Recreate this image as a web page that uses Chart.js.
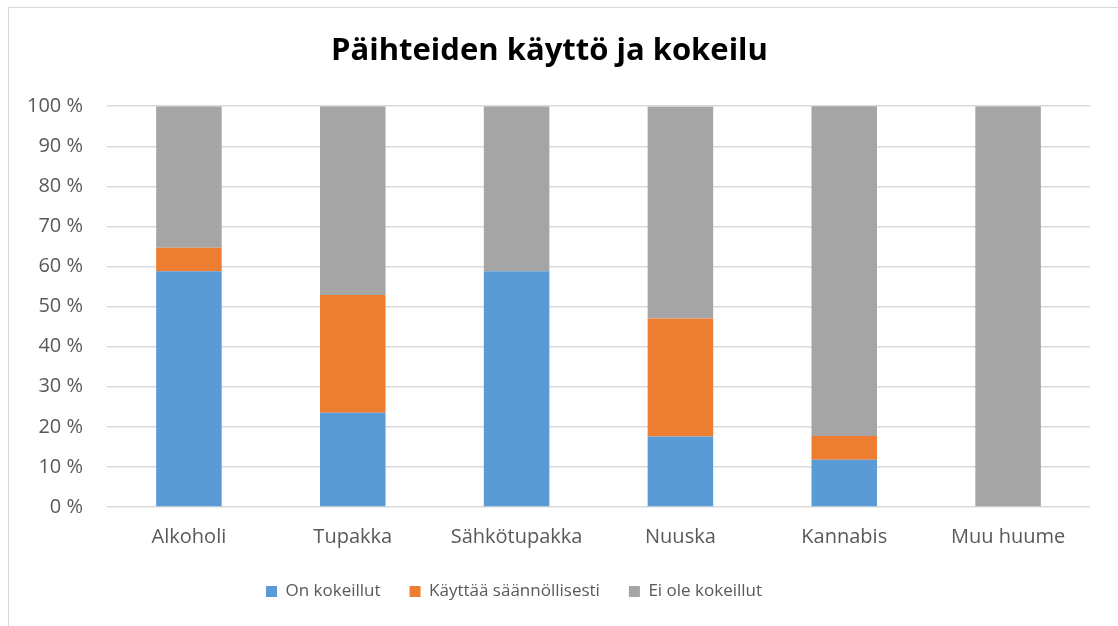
<!DOCTYPE html>
<html>
<head>
<meta charset="utf-8">
<script src="https://cdn.jsdelivr.net/npm/chart.js@4/dist/chart.umd.min.js"></script>
<style>
    html, body { margin: 0; padding: 0; background: #fff; overflow: hidden; }
    #frame {
        position: absolute; left: 8px; top: 7px;
        width: 1120px; height: 630px;
        border: 1px solid #d9d9d9; box-sizing: border-box;
    }
    #wrap { position: absolute; left: 0; top: 0; width: 1109px; height: 618px; }
</style>
</head>
<body>
<div id="frame"><div id="wrap"><canvas id="c"></canvas></div></div>
<script>
(function () {
    'use strict';

    // Data (share of respondents, %)
    var categories = ['Alkoholi', 'Tupakka', 'Sähkötupakka', 'Nuuska', 'Kannabis', 'Muu huume'];
    var onKokeillut = [58.8, 23.5, 58.8, 17.6, 11.8, 0];
    var kayttaa = [5.9, 29.4, 0, 29.4, 5.9, 0];
    var eiKokeillut = [35.3, 47.1, 41.2, 52.9, 82.4, 100];
    var seriesNames = ['On kokeillut', 'Käyttää säännöllisesti', 'Ei ole kokeillut'];
    var colors = ['#5b9bd5', '#ed7d31', '#a5a5a5'];
    var yTicks = [0, 10, 20, 30, 40, 50, 60, 70, 80, 90, 100];

    var FONT = '"Open Sans", "Noto Sans", sans-serif';
    Chart.defaults.font.family = FONT;
    Chart.defaults.color = '#595959';
    Chart.defaults.animation = false;

    function ds(i, values) {
        return {
            label: seriesNames[i],
            data: values,
            backgroundColor: colors[i],
            borderWidth: 0,
            barPercentage: 0.4,
            categoryPercentage: 1
        };
    }

    // Legend sits left of centre in the original; pin its left edge
    var legendShift = {
        id: 'legendShift',
        afterLayout: function (chart) {
            var lg = chart.legend;
            var w = lg.right - lg.left;
            lg.left = 228;
            lg.right = lg.left + w;
        }
    };

    new Chart(document.getElementById('c'), {
        type: 'bar',
        data: {
            labels: categories,
            datasets: [ds(0, onKokeillut), ds(1, kayttaa), ds(2, eiKokeillut)]
        },
        plugins: [legendShift],
        options: {
            responsive: true,
            maintainAspectRatio: false,
            layout: { padding: { left: 0, right: 28, top: 0, bottom: 16 } },
            plugins: {
                title: {
                    display: true,
                    text: 'Päihteiden käyttö ja kokeilu',
                    color: '#000',
                    font: { size: 31, weight: 'bold' },
                    padding: { top: 25, bottom: 36 }
                },
                legend: {
                    position: 'bottom',
                    align: 'start',
                    labels: {
                        boxWidth: 11,
                        boxHeight: 11,
                        padding: 29,
                        color: '#595959',
                        font: { size: 17 }
                    }
                },
                tooltip: { enabled: false }
            },
            scales: {
                x: {
                    stacked: true,
                    afterFit: function (s) { s.height -= 5; },
                    grid: { display: false },
                    border: { display: false },
                    ticks: { color: '#595959', font: { size: 20 }, padding: 10 }
                },
                y: {
                    stacked: true,
                    min: 0,
                    max: 100,
                    afterFit: function (s) { s.width = 98; },
                    afterBuildTicks: function (s) {
                        s.ticks = yTicks.map(function (v) { return { value: v }; });
                    },
                    grid: { color: '#d9d9d9', lineWidth: 1.5, drawTicks: false },
                    border: { display: false },
                    ticks: {
                        color: '#595959',
                        font: { size: 20 },
                        padding: 24,
                        callback: function (v) { return v + ' %'; }
                    }
                }
            }
        }
    });
})();
</script>
</body>
</html>
